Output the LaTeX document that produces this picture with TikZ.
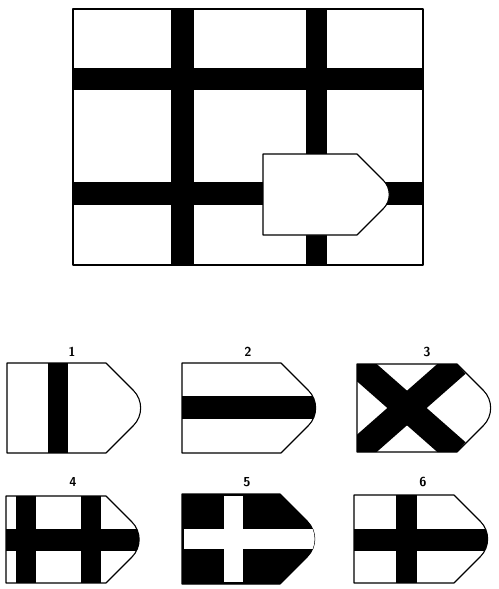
\documentclass[tikz,border=0pt]{standalone}
\begin{document}
\begin{tikzpicture}[x=1pt,y=-1pt,
  outline/.style={draw=black,line width=1.1pt,line join=round},
  bar/.style={fill=black},
  lbl/.style={font=\sffamily\bfseries\fontsize{13}{15}\selectfont,inner sep=0pt},
  tagpath/.style n args={5}{insert path={(#1,#2) -- (#3,#2) [rounded corners=#5pt] -- ({#3+(#4-#2)/2},{(#2+#4)/2}) [sharp corners] -- (#3,#4) -- (#1,#4) -- cycle}}
]
\useasboundingbox (0,0) rectangle (498,589);
% ---------- main picture ----------
\fill[white] (73,9) rectangle (423,265);
\begin{scope}
  \clip (73,9) rectangle (423,265);
  \fill[bar] (171,9) rectangle (194,265);
  \fill[bar] (306,9) rectangle (327,265);
  \fill[bar] (73,68) rectangle (423,90);
  \fill[bar] (73,182) rectangle (423,205);
\end{scope}
\draw[outline] (73,9) rectangle (423,265);
\path[outline,fill=white,tagpath={263}{154}{357}{235}{20}];
% ---------- option 1 ----------
\node[lbl] (l1) at (72,352) {1};
\begin{scope}
  \clip[tagpath={7}{363}{106}{453}{25}];
  \fill[bar] (48,363) rectangle (68,453);
\end{scope}
\path[outline,tagpath={7}{363}{106}{453}{25}];
% ---------- option 2 ----------
\node[lbl] (l2) at (248,352) {2};
\begin{scope}
  \clip[tagpath={182}{363}{281}{453}{25}];
  \fill[bar] (182,396) rectangle (330,419);
\end{scope}
\path[outline,tagpath={182}{363}{281}{453}{25}];
% ---------- option 3 ----------
\node[lbl] (l3) at (427,352) {3};
\begin{scope}
  \clip[tagpath={357}{364}{457}{452}{25}];
  \draw[line width=26pt] (357,364) -- (457,452);
  \draw[line width=26pt] (357,452) -- (457,364);
\end{scope}
\path[outline,tagpath={357}{364}{457}{452}{25}];
% ---------- option 4 ----------
\node[lbl] (l4) at (73,482) {4};
\begin{scope}
  \clip[tagpath={6}{496}{106}{583}{25}];
  \fill[bar] (16,496) rectangle (36,583);
  \fill[bar] (81,496) rectangle (101,583);
  \fill[bar] (6,529) rectangle (160,551);
\end{scope}
\path[outline,tagpath={6}{496}{106}{583}{25}];
% ---------- option 5 ----------
\node[lbl] (l5) at (247,482) {5};
\path[outline,fill=black,tagpath={182}{494}{280}{584}{25}];
\begin{scope}
  \clip[tagpath={182}{494}{280}{584}{25}];
  \fill[white] (224,496) rectangle (243,582);
  \fill[white] (184,529) rectangle (330,549);
\end{scope}
% ---------- option 6 ----------
\node[lbl] (l6) at (423,482) {6};
\begin{scope}
  \clip[tagpath={354}{495}{454}{583}{25}];
  \fill[bar] (396,495) rectangle (417,583);
  \fill[bar] (354,529) rectangle (500,551);
\end{scope}
\path[outline,tagpath={354}{495}{454}{583}{25}];
\end{tikzpicture}
\end{document}
